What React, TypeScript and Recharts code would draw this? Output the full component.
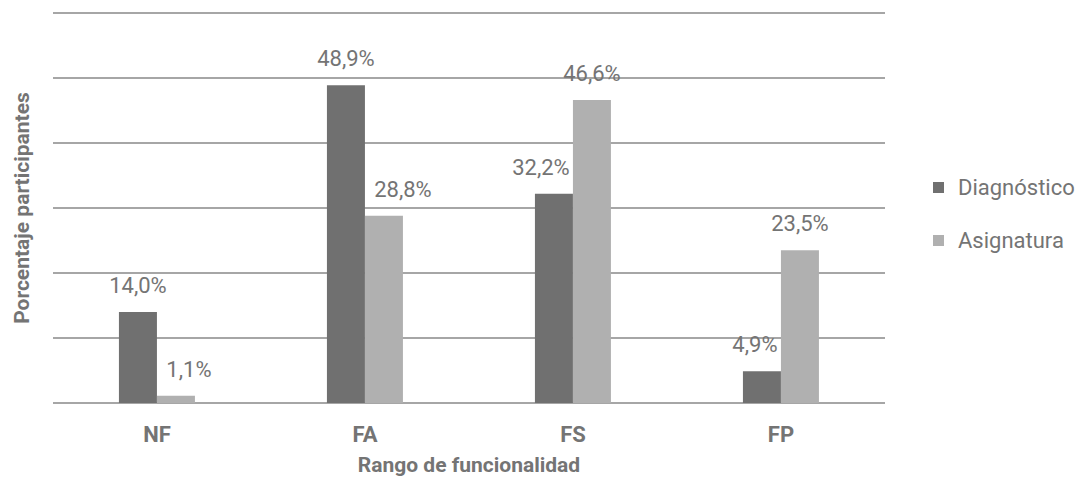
import React from 'react';
import {
  BarChart,
  Bar,
  XAxis,
  YAxis,
  CartesianGrid,
  LabelList,
} from 'recharts';

const categories = ['NF', 'FA', 'FS', 'FP'];
const diagnostico = [14.0, 48.9, 32.2, 4.9];
const asignatura = [1.1, 28.8, 46.6, 23.5];
const yTicks = [0, 10, 20, 30, 40, 50, 60];

// horizontal nudges of the value labels, as placed in the original
const diagLabelDx = [0, 0, -13, -7];
const asigLabelDx = [13, 19, 0, 0];

const data = categories.map((c, i) => ({
  name: c,
  Diagnóstico: diagnostico[i],
  Asignatura: asignatura[i],
}));

const FONT = 'Roboto, "Liberation Sans", sans-serif';
const TEXT = '#747474';
const DARK = '#707070';
const LIGHT = '#b0b0b0';

const series = [
  { key: 'Diagnóstico', color: DARK },
  { key: 'Asignatura', color: LIGHT },
];

const fmt = (v: any) => `${Number(v).toFixed(1).replace('.', ',')}%`;

const makeLabel = (shifts: number[]) => (props: any) => {
  const { x, y, width, value, index } = props;
  return (
    <text
      x={Number(x) + Number(width) / 2 + (shifts[index] || 0)}
      y={Number(y) - 19}
      textAnchor="middle"
      fill={TEXT}
      fontSize={22}
      fontFamily={FONT}
    >
      {fmt(value)}
    </text>
  );
};

const CatTick = (props: any) => {
  const { x, y, payload } = props;
  return (
    <text x={x} y={y} dy={31} textAnchor="middle" fill={TEXT} fontSize={22} fontWeight={700} fontFamily={FONT}>
      {payload.value}
    </text>
  );
};

const NoTick = () => <g />;

const App: React.FC = () => {
  return (
    <div style={{ position: 'absolute', left: 0, top: 0, width: 1078, height: 480, background: '#fff' }}>
      <BarChart
        width={1078}
        height={480}
        data={data}
        margin={{ top: 13, right: 193, left: 0, bottom: 0 }}
        barCategoryGap="31.7%"
        barGap={0}
      >
        <CartesianGrid vertical={false} stroke="#a6a6a6" strokeWidth={2} />
        <XAxis
          dataKey="name"
          axisLine={false}
          tickLine={false}
          height={77}
          tick={<CatTick />}
          label={{
            value: 'Rango de funcionalidad',
            position: 'insideBottom',
            offset: 8,
            fill: TEXT,
            fontSize: 21,
            fontWeight: 700,
            fontFamily: FONT,
          }}
        />
        <YAxis
          domain={[0, 60]}
          ticks={yTicks}
          width={53}
          tick={<NoTick />}
          axisLine={false}
          tickLine={false}
          label={{
            value: 'Porcentaje participantes',
            angle: -90,
            position: 'center',
            dx: -5,
            fill: TEXT,
            fontSize: 21,
            fontWeight: 700,
            fontFamily: FONT,
          }}
        />
        <Bar dataKey="Diagnóstico" fill={DARK} isAnimationActive={false}>
          <LabelList dataKey="Diagnóstico" content={makeLabel(diagLabelDx)} />
        </Bar>
        <Bar dataKey="Asignatura" fill={LIGHT} isAnimationActive={false}>
          <LabelList dataKey="Asignatura" content={makeLabel(asigLabelDx)} />
        </Bar>
      </BarChart>
      <div style={{ position: 'absolute', left: 933, top: 161, fontFamily: FONT }}>
        {series.map((s) => (
          <div key={s.key} style={{ display: 'flex', alignItems: 'center', height: 53 }}>
            <span style={{ width: 11, height: 11, background: s.color, display: 'inline-block', marginRight: 14 }} />
            <span style={{ fontSize: 22, color: TEXT }}>{s.key}</span>
          </div>
        ))}
      </div>
    </div>
  );
};

export default App;
